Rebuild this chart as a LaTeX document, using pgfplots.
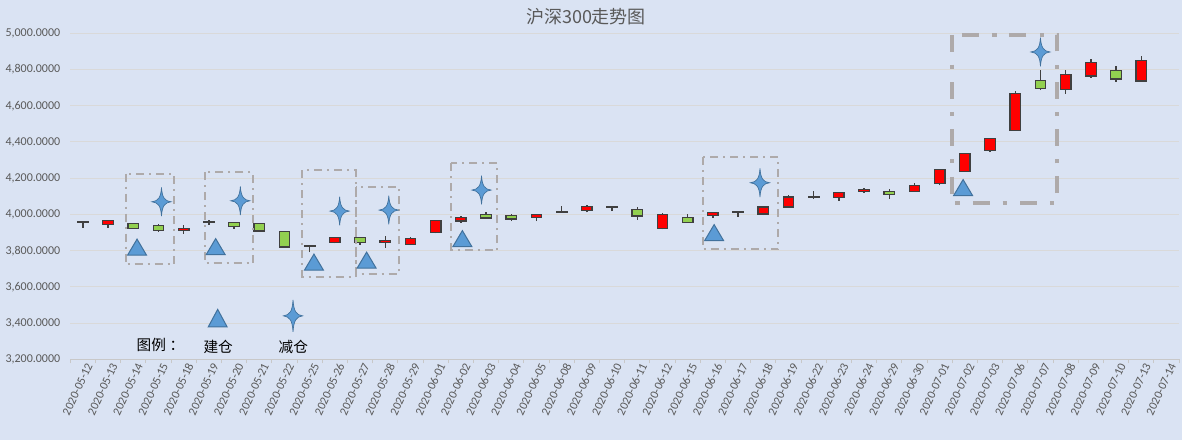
\documentclass[border=0pt]{standalone}
\usepackage{pgfplots}
\pgfplotsset{compat=1.18}
\usepackage{fontspec}
\setmainfont{Carlito}
\newfontfamily\cjk{Noto Sans CJK SC}
\definecolor{bg}{HTML}{DAE3F3}
\definecolor{gridc}{HTML}{D9D9D9}
\definecolor{axc}{HTML}{C8C8C8}
\definecolor{tk}{HTML}{595959}
\definecolor{upc}{HTML}{FF0000}
\definecolor{dnc}{HTML}{92D050}
\definecolor{edge}{HTML}{404040}
\definecolor{mk}{HTML}{5B9BD5}
\definecolor{mkd}{HTML}{41719C}
\definecolor{bx}{HTML}{AEAAAA}

\pgfdeclareplotmark{tri}{%
  \pgfpathmoveto{\pgfqpoint{0pt}{6pt}}%
  \pgfpathlineto{\pgfqpoint{7.1pt}{-6pt}}%
  \pgfpathlineto{\pgfqpoint{-7.1pt}{-6pt}}%
  \pgfpathclose
  \pgfusepathqfillstroke}
\pgfdeclareplotmark{star4}{%
  \pgfpathmoveto{\pgfqpoint{0pt}{10.75pt}}%
  \pgfpathcurveto{\pgfqpoint{0.5pt}{3pt}}{\pgfqpoint{2.5pt}{0.5pt}}{\pgfqpoint{7.2pt}{0pt}}%
  \pgfpathcurveto{\pgfqpoint{2.5pt}{-0.5pt}}{\pgfqpoint{0.5pt}{-3pt}}{\pgfqpoint{0pt}{-10.75pt}}%
  \pgfpathcurveto{\pgfqpoint{-0.5pt}{-3pt}}{\pgfqpoint{-2.5pt}{-0.5pt}}{\pgfqpoint{-7.2pt}{0pt}}%
  \pgfpathcurveto{\pgfqpoint{-2.5pt}{0.5pt}}{\pgfqpoint{-0.5pt}{3pt}}{\pgfqpoint{0pt}{10.75pt}}%
  \pgfpathclose
  \pgfusepathqfillstroke}

% \candle{x}{open}{high}{low}{close}
\newcommand{\candle}[5]{%
  \ifdim #5pt>#2pt \def\cfill{upc}\else \def\cfill{dnc}\fi
  \pgfmathsetmacro{\xa}{#1-0.21}\pgfmathsetmacro{\xb}{#1+0.21}%
  \edef\tmp{%
    \noexpand\addplot[draw=edge, line width=1pt, mark=none] coordinates {(#1,#4) (#1,#3)};
    \noexpand\addplot[draw=edge, fill=\cfill, line width=1pt, mark=none, line join=miter] coordinates {(\xa,#2) (\xb,#2) (\xb,#5) (\xa,#5)} -- cycle;}%
  \tmp}

\tikzset{box/.style={draw=bx, line width=1.5pt, dash pattern=on 6pt off 3.75pt on 1.5pt off 3.75pt}}

\begin{document}
\begin{tikzpicture}
\fill[bg] (-52.7pt,-60.45pt) rectangle (833.8pt,269.55pt);
\path[use as bounding box] (-52.7pt,-60.45pt) rectangle (833.8pt,269.55pt);
\begin{axis}[
  at={(0pt,0pt)}, anchor=south west,
  scale only axis, width=831.6pt, height=244.6pt,
  xmin=-0.5, xmax=43.5, ymin=3200, ymax=5000,
  clip=false,
  axis x line*=bottom, axis y line*=left,
  x axis line style={draw=axc, line width=0.75pt, -},
  y axis line style={draw=none},
  ytick={3200,3400,...,5000},
  yticklabel={\pgfmathprintnumber[fixed, fixed zerofill, precision=4, 1000 sep={,}, assume math mode=true]{\tick}},
  ymajorgrids, major grid style={draw=gridc, line width=0.75pt},
  xtick={0,...,43},
  xticklabels={2020-05-12,2020-05-13,2020-05-14,2020-05-15,2020-05-18,2020-05-19,2020-05-20,2020-05-21,2020-05-22,2020-05-25,2020-05-26,2020-05-27,2020-05-28,2020-05-29,2020-06-01,2020-06-02,2020-06-03,2020-06-04,2020-06-05,2020-06-08,2020-06-09,2020-06-10,2020-06-11,2020-06-12,2020-06-15,2020-06-16,2020-06-17,2020-06-18,2020-06-19,2020-06-22,2020-06-23,2020-06-24,2020-06-29,2020-06-30,2020-07-01,2020-07-02,2020-07-03,2020-07-06,2020-07-07,2020-07-08,2020-07-09,2020-07-10,2020-07-13,2020-07-14},
  minor xtick={-0.5,0.5,...,43.5},
  major tick length=0pt, minor tick length=3pt, tick align=outside,
  minor tick style={draw=axc, line width=0.75pt},
  xticklabel style={rotate=65, anchor=east, font=\fontsize{9}{10}\selectfont, text=tk, inner sep=1pt, yshift=-5.85pt, xshift=0.2pt},
  yticklabel style={font=\fontsize{9}{10}\selectfont, text=tk, xshift=-4pt},
]
\candle{0}{3960}{3965}{3927}{3956}
\candle{1}{3943}{3971}{3927}{3965}
\candle{2}{3949}{3951}{3920}{3921}
\candle{3}{3938}{3945}{3905}{3910}
\candle{4}{3910}{3943}{3894}{3921}
\candle{5}{3961}{3967}{3943}{3957}
\candle{6}{3954}{3956}{3921}{3932}
\candle{7}{3949}{3950}{3905}{3908}
\candle{8}{3905}{3906}{3816}{3820}
\candle{9}{3828}{3833}{3792}{3824}
\candle{10}{3844}{3873}{3840}{3872}
\candle{11}{3872}{3873}{3833}{3844}
\candle{12}{3844}{3883}{3816}{3857}
\candle{13}{3833}{3873}{3831}{3866}
\candle{14}{3899}{3971}{3895}{3965}
\candle{15}{3963}{3989}{3954}{3983}
\candle{16}{3998}{4015}{3979}{3980}
\candle{17}{3993}{4000}{3963}{3974}
\candle{18}{3985}{4001}{3963}{4000}
\candle{19}{4017}{4048}{4013}{4013}
\candle{20}{4022}{4051}{4011}{4044}
\candle{21}{4042}{4044}{4018}{4038}
\candle{22}{4028}{4039}{3972}{3991}
\candle{23}{3923}{4009}{3917}{4000}
\candle{24}{3982}{4004}{3953}{3954}
\candle{25}{3993}{4015}{3982}{4009}
\candle{26}{4015}{4016}{3987}{4011}
\candle{27}{4002}{4043}{3996}{4042}
\candle{28}{4042}{4107}{4041}{4097}
\candle{29}{4098}{4127}{4086}{4094}
\candle{30}{4094}{4122}{4077}{4121}
\candle{31}{4125}{4145}{4119}{4138}
\candle{32}{4127}{4138}{4086}{4110}
\candle{33}{4125}{4171}{4124}{4160}
\candle{34}{4169}{4249}{4160}{4248}
\candle{35}{4236}{4338}{4235}{4337}
\candle{36}{4353}{4421}{4344}{4420}
\candle{37}{4464}{4679}{4463}{4668}
\candle{38}{4740}{4795}{4686}{4694}
\candle{39}{4688}{4800}{4666}{4773}
\candle{40}{4765}{4856}{4754}{4839}
\candle{41}{4795}{4822}{4732}{4748}
\candle{42}{4737}{4877}{4736}{4850}

\draw[box] (axis cs:1.696,4226) rectangle (axis cs:3.61,3724);
\draw[box] (axis cs:4.827,4232) rectangle (axis cs:6.753,3730);
\draw[box] (axis cs:8.711,4243) rectangle (axis cs:10.82,3654);
\draw[box] (axis cs:10.82,4149) rectangle (axis cs:12.53,3669);
\draw[box] (axis cs:14.62,4282) rectangle (axis cs:16.45,3803);
\draw[box] (axis cs:24.6,4315) rectangle (axis cs:27.59,3807);
\draw[box, line width=3pt, dash pattern=on 12.75pt off 9.5pt on 3.2pt off 10pt] (axis cs:34.5,4991) rectangle (axis cs:38.66,4061);

\addplot[only marks, mark=tri, mark options={fill=mk, draw=mkd, line width=0.75pt, solid}]
  coordinates {(2.15,3819.7) (5.27,3822.5) (9.17,3736.9) (11.26,3748) (15.06,3866.7) (25.05,3899.8) (34.93,4148.4)};
\addplot[only marks, mark=star4, mark options={fill=mk, draw=mkd, line width=0.5pt, solid}]
  coordinates {(3.12,4069.9) (6.25,4075.4) (10.19,4018.6) (12.14,4024.1) (15.82,4134.6) (26.87,4174.9) (38.0,4896.7)};
% legend markers
\addplot[only marks, mark=tri, mark options={fill=mk, draw=mkd, line width=0.75pt, solid, yscale=1.1}]
  coordinates {(5.35,3427.6)};
\addplot[only marks, mark=star4, mark options={fill=mk, draw=mkd, line width=0.5pt, solid, yscale=1.12}]
  coordinates {(8.34,3440.3)};

\node[font=\cjk\fontsize{11}{12}\selectfont, anchor=west, inner sep=0pt] at (axis cs:2.124,3278) {图例\kern0.25em：};
\node[font=\cjk\fontsize{11}{12}\selectfont] at (axis cs:5.37,3267) {建仓};
\node[font=\cjk\fontsize{11}{12}\selectfont] at (axis cs:8.35,3267) {减仓};
\end{axis}
\node[font=\cjk\fontsize{13.5}{15}\selectfont, text=tk] at (386.8pt,257pt) {沪深300走势图};
\end{tikzpicture}
\end{document}
